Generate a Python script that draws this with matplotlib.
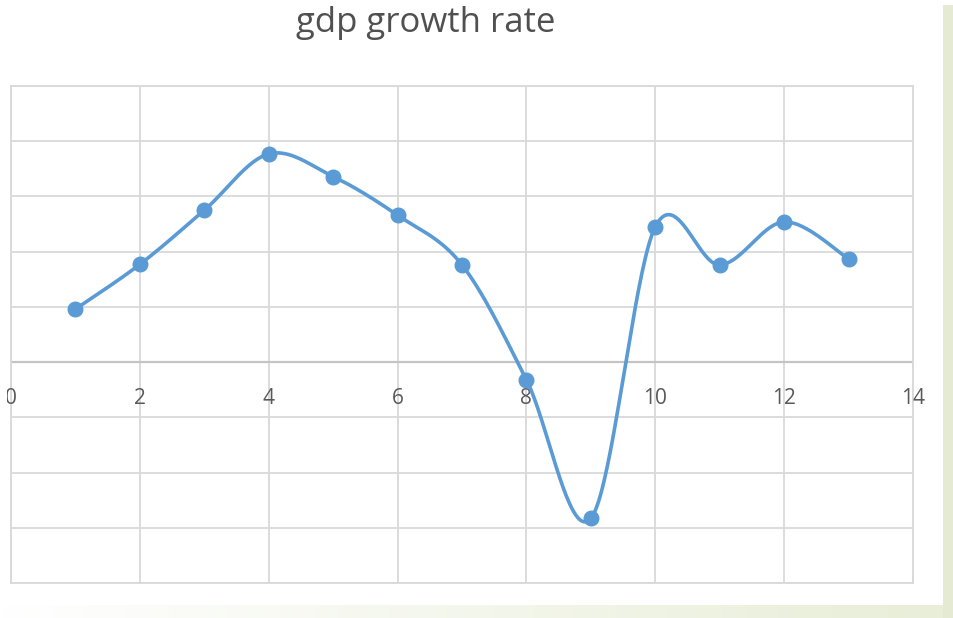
import numpy as np
import matplotlib.pyplot as plt
from matplotlib.patches import Rectangle
from matplotlib.colors import LinearSegmentedColormap
from matplotlib.transforms import Bbox

# yearly gdp growth values
years = [1, 2, 3, 4, 5, 6, 7, 8, 9, 10, 11, 12, 13]
growth = [0.96, 1.77, 2.75, 3.77, 3.36, 2.66, 1.76, -0.32, -2.83, 2.45, 1.76, 2.54, 1.87]
x_ticks = [0, 2, 4, 6, 8, 10, 12, 14]

LINE = "#5b9bd5"
GRID = "#d9d9d9"
TEXT = "#595959"


def smooth_curve(xs, ys, steps=40):
    # cubic bezier through every point, catmull-rom style control points
    pts = np.column_stack([xs, ys]).astype(float)
    padded = np.vstack([pts[0], pts, pts[-1]])
    out = []
    t = np.linspace(0, 1, steps)[:, None]
    for i in range(len(pts) - 1):
        p0, p1, p2, p3 = padded[i], padded[i + 1], padded[i + 2], padded[i + 3]
        c1 = p1 + (p2 - p0) / 6
        c2 = p2 - (p3 - p1) / 6
        seg = ((1 - t) ** 3) * p1 + 3 * ((1 - t) ** 2) * t * c1 \
            + 3 * (1 - t) * t ** 2 * c2 + t ** 3 * p2
        out.append(seg if i == 0 else seg[1:])
    seg = np.vstack(out)
    return seg[:, 0], seg[:, 1]


fig = plt.figure(figsize=(9.54, 6.18), dpi=100)
fig.patch.set_facecolor("white")

# slide background strips on the right and bottom
fig.patches.append(Rectangle((943 / 954, 0), 11 / 954, 613 / 618,
                             transform=fig.transFigure, facecolor="#e5ebd3",
                             edgecolor="none", zorder=0))
bg = fig.add_axes([0, 0, 943 / 954, 13 / 618])
grad = np.linspace(0, 1, 256)[None, :]
cmap = LinearSegmentedColormap.from_list("bg", ["#ffffff", "#e8eed8"])
bg.imshow(grad, aspect="auto", cmap=cmap, extent=[0, 1, 0, 1])
bg.axis("off")

ax = fig.add_axes([11 / 954, 35 / 618, 902 / 954, 497 / 618])
ax.set_xlim(0, 14)
ax.set_ylim(-4, 5)

ax.set_xticks(x_ticks)
ax.set_yticks(range(-4, 6))
ax.grid(True, color=GRID, linewidth=1.3)
ax.set_axisbelow(True)
ax.axhline(0, color="#c4c4c4", linewidth=1.6, zorder=1)
for s in ax.spines.values():
    s.set_color(GRID)
    s.set_linewidth(1.3)
ax.tick_params(length=0, labelleft=False, labelbottom=False)

# x labels sit just under the zero line; the chart frame cuts the left one
frame = Bbox([[7, 0], [954, 618]])
for xv in x_ticks:
    lbl = ax.annotate(str(xv), (xv, 0), xytext=(0, -26.5), textcoords="offset points",
                      ha="center", va="center", color=TEXT, fontsize=15,
                      family="Open Sans", annotation_clip=False)
    lbl.set_clip_box(frame)
    lbl.set_clip_on(True)

sx, sy = smooth_curve(years, growth)
ax.plot(sx, sy, color=LINE, linewidth=2.6, solid_capstyle="round", zorder=3)
ax.plot(years, growth, "o", color=LINE, markersize=10.5, zorder=4)

fig.text(426 / 954, 1 - 23 / 618, "gdp growth rate", ha="center", va="center",
         fontsize=25, color="#505050", family="Open Sans")

fig.savefig("out.png", dpi=100)
